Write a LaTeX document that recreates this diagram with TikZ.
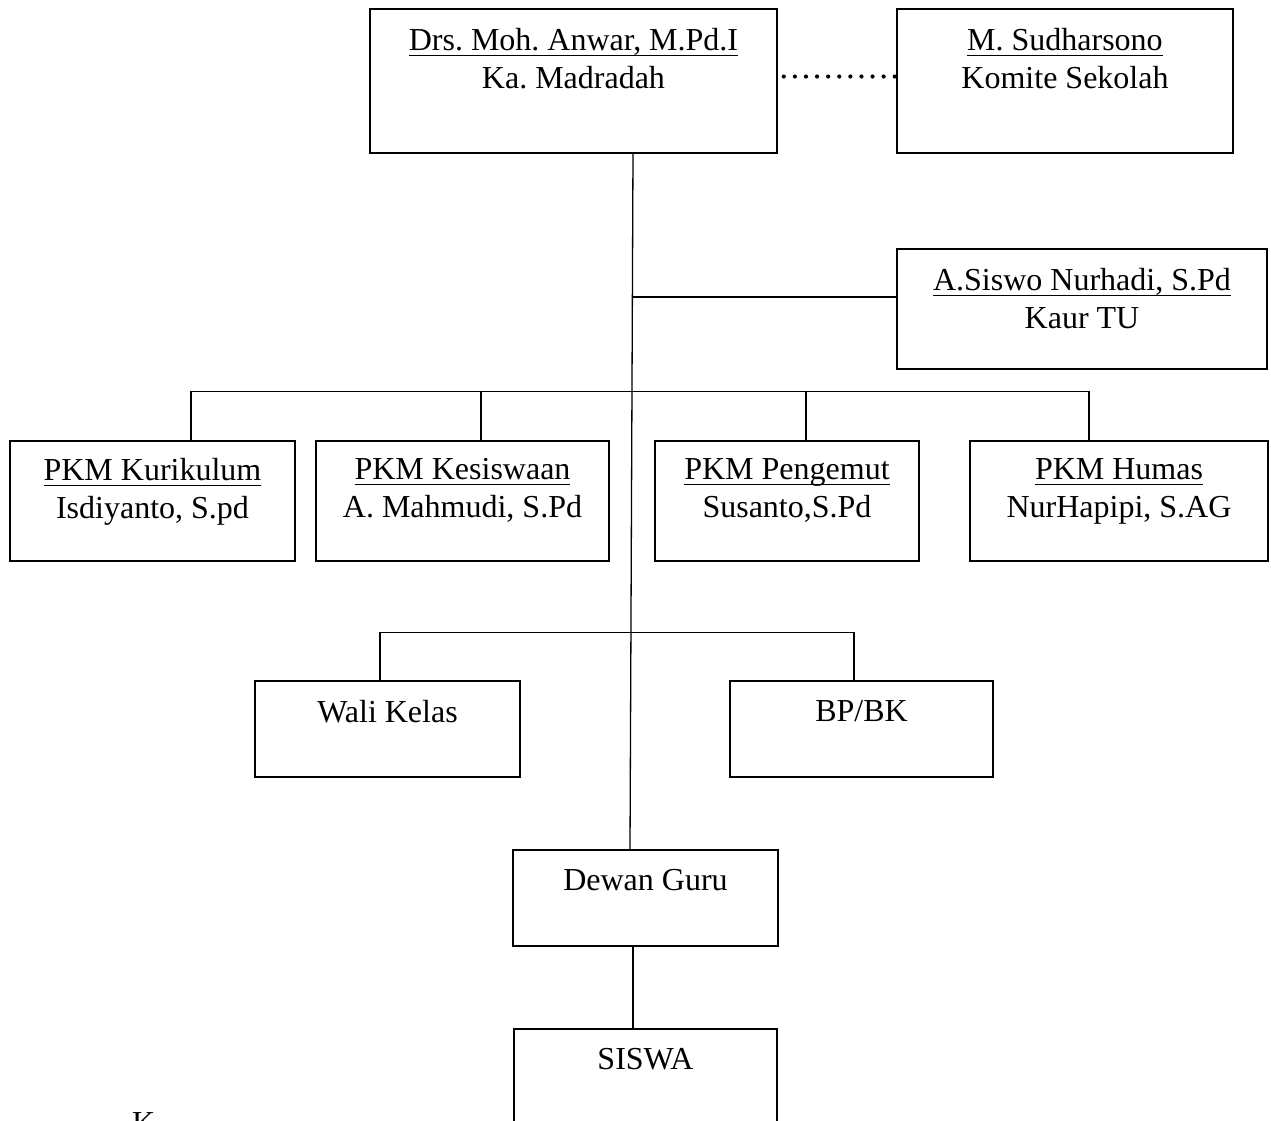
\documentclass[tikz,border=0pt]{standalone}
\usepackage{amssymb,amsmath}
\usepackage{xcolor}
\usepackage{fontspec}
\setmainfont{Liberation Serif}
\usepackage{tikz}
\usetikzlibrary{%
arrows,
shapes,
backgrounds}

\frenchspacing
\newcommand{\headline}[1]{\underline{\smash[b]{#1}}}

\tikzset{
  unit/.style={draw=black,line width=1.5bp,inner sep=0pt},
  caption/.style={anchor=north,inner sep=0pt,align=center,
    font=\fontsize{32bp}{37.5bp}\selectfont},
  link/.style={draw=black,line width=1.3bp},
}

\begin{document}
\begin{tikzpicture}[x=1bp,y=-1bp,line join=miter]
\clip (0,0) rectangle (1271,1121);
%%
  % Node: kaMadrasah
  \node[unit,minimum width=407bp,minimum height=144bp] (kaMadrasah) at (573.5,81) {};
  \node[caption] (kaMadrasahTxt) at (573.5,28.5) {\headline{Drs. Moh. Anwar, M.Pd.I}\\Ka. Madradah};
  % Node: komiteSekolah
  \node[unit,minimum width=336bp,minimum height=144bp] (komiteSekolah) at (1065,81) {};
  \node[caption] (komiteSekolahTxt) at (1065,28.5) {\headline{M. Sudharsono}\\Komite Sekolah};
  % Node: kaurTU
  \node[unit,minimum width=370bp,minimum height=120bp] (kaurTU) at (1082,309) {};
  \node[caption] (kaurTUTxt) at (1082,268.5) {\headline{A.Siswo Nurhadi, S.Pd}\\Kaur TU};
  % Node: pkmKurikulum
  \node[unit,minimum width=285bp,minimum height=120bp] (pkmKurikulum) at (152.5,501) {};
  \node[caption] (pkmKurikulumTxt) at (152.5,458.5) {\headline{PKM Kurikulum}\\Isdiyanto, S.pd};
  % Node: pkmKesiswaan
  \node[unit,minimum width=293bp,minimum height=120bp] (pkmKesiswaan) at (462.5,501) {};
  \node[caption] (pkmKesiswaanTxt) at (462.5,458.5) {\headline{PKM Kesiswaan}\\A. Mahmudi, S.Pd};
  % Node: pkmPengemut
  \node[unit,minimum width=264bp,minimum height=120bp] (pkmPengemut) at (787,501) {};
  \node[caption] (pkmPengemutTxt) at (787,458.5) {\headline{PKM Pengemut}\\Susanto,S.Pd};
  % Node: pkmHumas
  \node[unit,minimum width=298bp,minimum height=120bp] (pkmHumas) at (1119,501) {};
  \node[caption] (pkmHumasTxt) at (1119,458.5) {\headline{PKM Humas}\\NurHapipi, S.AG};
  % Node: waliKelas
  \node[unit,minimum width=265bp,minimum height=96bp] (waliKelas) at (387.5,729) {};
  \node[caption] (waliKelasTxt) at (387.5,700.5) {Wali Kelas};
  % Node: bpBK
  \node[unit,minimum width=263bp,minimum height=96bp] (bpBK) at (861.5,729) {};
  \node[caption] (bpBKTxt) at (861.5,700.5) {BP/BK};
  % Node: dewanGuru
  \node[unit,minimum width=265bp,minimum height=96bp] (dewanGuru) at (645.5,898) {};
  \node[caption] (dewanGuruTxt) at (645.5,869.5) {Dewan Guru};
  % Node: siswa
  \node[unit,minimum width=263bp,minimum height=130bp] (siswa) at (645.5,1094) {};
  \node[caption] (siswaTxt) at (645.5,1048.5) {SISWA};
  % Node: note
  \node[caption,anchor=north west] (note) at (132,1112) {K};
%%
  % Edge: kaMadrasah -> komiteSekolah
  \draw[line width=4.2bp,line cap=round,dash pattern=on 0bp off 11.1bp]
    (kaMadrasah.east |- 0,76.5) ++(6,0) -- (komiteSekolah.west |- 0,76.5);
  % Edge: kaMadrasah -> dewanGuru
  \draw[link] (kaMadrasah.south -| 633,0) -- (dewanGuru.north -| 630,0);
  % Edge: trunk -> kaurTU
  \coordinate (tuJoin) at (632.4,297);
  \draw[link] (tuJoin) -- (tuJoin -| kaurTU.west);
  % Edge: trunk -> pkm row
  \draw[link] (pkmKurikulum.north -| 191,0) -- ++(0,-49) -| (pkmHumas.north -| 1089,0);
  \draw[link] (pkmKesiswaan.north -| 481,0) -- ++(0,-49);
  \draw[link] (pkmPengemut.north -| 806,0) -- ++(0,-49);
  % Edge: trunk -> waliKelas, bpBK
  \draw[link] (waliKelas.north -| 380,0) -- ++(0,-48) -| (bpBK.north -| 854,0);
  % Edge: dewanGuru -> siswa
  \draw[link] (dewanGuru.south -| 633,0) -- (siswa.north -| 633,0);
%
\end{tikzpicture}
\end{document}
